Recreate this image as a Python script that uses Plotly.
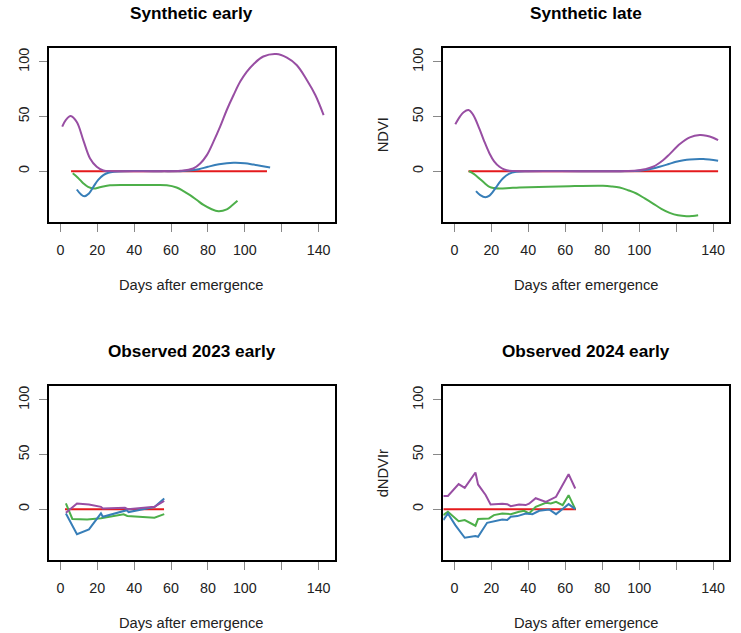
import plotly.graph_objects as go

W, H = 741, 633

PURPLE = "#984EA3"
BLUE = "#377EB8"
GREEN = "#4DAF4A"
RED = "#E41A1C"

# ---------------- data ----------------
# Synthetic early
se_purple_x = [1, 3, 5.6, 8.9, 12.5, 16.1, 19.7, 23.3, 28, 40, 55, 65, 72, 75.8, 79.4, 83, 86.6, 90.2, 93.9, 97.5, 101, 104.7, 110, 117, 122.8, 128.2, 133.6, 138.2, 142.7]
se_purple_y = [40.7, 47, 50.5, 45, 28, 11.6, 4, 0.6, 0, 0, 0, 0.3, 2.4, 7, 14.7, 27, 40.7, 56, 69.7, 82, 91, 98, 105, 107.3, 104, 97, 83.5, 69.7, 51.4]
se_blue_x = [8.9, 11, 13, 15.5, 17.9, 20.5, 23.3, 26, 29, 35, 50, 65, 70, 75, 80, 86, 93.9, 100, 104.7, 109, 113.7]
se_blue_y = [-16.8, -21, -23, -20.5, -14.4, -8, -3.7, -1.5, -0.5, 0, 0, 0, 0.5, 1.8, 4, 6.2, 7.6, 7.2, 6, 4.8, 3.4]
se_green_x = [6.7, 9.5, 12.5, 15, 17.9, 22, 26.9, 39.6, 50, 57.7, 63, 66.5, 70.3, 74, 77.6, 81.5, 85.7, 90.2, 93, 96]
se_green_y = [-2, -6, -11.3, -14.5, -16, -14.5, -13, -12.8, -12.8, -13, -15, -18, -22, -26.5, -31, -34.5, -36.7, -35, -31.5, -27.2]
se_red_x = [5.8, 112]
se_red_y = [0, 0]

# Synthetic late
sl_purple_x = [0.5, 3, 5, 7.6, 10, 13.5, 16, 19, 21.5, 24.4, 27, 29.8, 35, 60, 90, 98.5, 103, 107.5, 112.9, 116.5, 122, 127.4, 132.8, 136.4, 140, 142.7]
sl_purple_y = [43, 50, 54, 56, 52, 39, 28, 16.2, 9, 4, 1.5, 0.3, 0, 0, 0, 0.5, 1.8, 4, 10, 15.6, 24.8, 30.9, 33, 32.4, 30.6, 28.4]
sl_blue_x = [11.7, 14, 16.8, 19, 20.8, 23.5, 26.2, 29.5, 33.4, 40, 70, 100, 105, 111, 116, 120, 124, 127.4, 134.6, 142.7]
sl_blue_y = [-18.3, -22, -24, -22.5, -19, -12.5, -6.7, -2.5, -0.6, 0, 0, 0.3, 1.5, 4, 6.5, 8.6, 10, 10.7, 11, 9.5]
sl_green_x = [7.8, 10.5, 13.5, 16, 19, 21.5, 24.4, 30, 35.2, 62.3, 80.4, 85, 89.4, 94, 98.5, 103, 107.5, 112, 116.5, 121, 125.6, 129, 131.9]
sl_green_y = [0, -2.5, -6.7, -10.5, -14.4, -15.5, -16, -15.5, -15, -13.8, -13.5, -14, -15, -17.5, -20.5, -25, -29.7, -34.5, -38.2, -40.5, -41.3, -41, -40.4]
sl_red_x = [7.6, 142.7]
sl_red_y = [0, 0]

# Observed 2023 early
o23_blue_x = [3, 9, 15.5, 22, 23, 36, 37, 51, 56.3]
o23_blue_y = [-4, -23, -18.5, -3.9, -7, -1, -2.7, 2, 9.8]
o23_green_x = [3, 6.5, 14.5, 22, 34.3, 36.3, 51, 56.3]
o23_green_y = [5.2, -9, -9.6, -8.3, -4.8, -6.2, -7.8, -4.6]
o23_purple_x = [3, 9, 15.5, 22, 23, 35, 36.5, 51, 56.3]
o23_purple_y = [-3.4, 5.2, 4.3, 2.1, 0.6, 1.2, 0, 2.1, 7.6]
o23_red_x = [2.5, 56.2]
o23_red_y = [0, 0]

# Observed 2024 early
o24_purple_x = [-6, -3.5, 2.3, 5.6, 11.4, 12.8, 16.9, 19.6, 25.9, 28.6, 30.5, 35, 38.6, 40.4, 44, 49.5, 55, 57.7, 61.8, 65.4]
o24_purple_y = [12, 12, 22.9, 19.5, 33.6, 22.6, 13, 4.3, 5, 4.5, 2.7, 4.3, 3.7, 5, 10, 6.7, 11.3, 20, 32, 18.9]
o24_green_x = [-6, -3.5, 2.3, 5.6, 11.4, 12.8, 18.7, 21.4, 25.9, 30.5, 35, 37.7, 40.4, 44, 49.5, 52.2, 55, 58.6, 61.8, 65.4]
o24_green_y = [-5.5, -2.4, -11, -10, -15.2, -9.1, -8.5, -5.5, -4, -4.6, -2.4, -1.5, -4, 2.1, 5.8, 5.2, 6.7, 3.7, 12.8, 0]
o24_blue_x = [-6, -3.5, 0.5, 5.6, 11.4, 12.8, 17.7, 20.4, 25.9, 28.6, 30.5, 34.1, 38.6, 42.2, 45.9, 51.3, 55, 58.9, 61.8, 65.4]
o24_blue_y = [-10, -4, -14.6, -26.2, -24.7, -25.3, -12.5, -11.6, -9.5, -10, -7, -6.4, -4, -4.6, -1.5, -0.3, -4.6, 0.6, 4.6, 0]
o24_red_x = [-6, 65.8]
o24_red_y = [0, 0]

titles = ["Synthetic early", "Synthetic late", "Observed 2023 early", "Observed 2024 early"]
ylabels = ["", "NDVI", "", "dNDVIr"]
xlabel = "Days after emergence"
x_ticks = [0, 20, 40, 60, 80, 100, 120, 140]
x_ticktext = ["0", "20", "40", "60", "80", "100", "", "140"]
y_ticks = [0, 50, 100]
y_ticktext = ["0", "50", "100"]

XRANGE = [-6, 148.6]
YRANGE = [-46.6, 112.8]

# ---------------- layout geometry (pixels) ----------------
col_px = [(49.3, 334.5), (443.3, 729.0)]
row_px = [(48.0, 222.0), (386.0, 560.0)]

fig = go.Figure()
FONT = "Liberation Sans, Arial, Helvetica, sans-serif"

panels = [
    [(se_red_x, se_red_y, RED), (se_green_x, se_green_y, GREEN), (se_blue_x, se_blue_y, BLUE), (se_purple_x, se_purple_y, PURPLE)],
    [(sl_red_x, sl_red_y, RED), (sl_green_x, sl_green_y, GREEN), (sl_blue_x, sl_blue_y, BLUE), (sl_purple_x, sl_purple_y, PURPLE)],
    [(o23_red_x, o23_red_y, RED), (o23_green_x, o23_green_y, GREEN), (o23_blue_x, o23_blue_y, BLUE), (o23_purple_x, o23_purple_y, PURPLE)],
    [(o24_red_x, o24_red_y, RED), (o24_green_x, o24_green_y, GREEN), (o24_blue_x, o24_blue_y, BLUE), (o24_purple_x, o24_purple_y, PURPLE)],
]
smooth = [True, True, False, False]

annotations = []
for i in range(4):
    r, c = divmod(i, 2)
    x0, x1 = col_px[c]
    y0, y1 = row_px[r]
    n = "" if i == 0 else str(i + 1)
    xa = "x" + n
    ya = "y" + n
    for xs, ys, col in panels[i]:
        fig.add_trace(go.Scatter(
            x=xs, y=ys, mode="lines", xaxis=xa, yaxis=ya,
            line=dict(color=col, width=2, shape="spline" if smooth[i] else "linear", smoothing=1.0),
            showlegend=False, hoverinfo="skip"))
    common = dict(showgrid=False, zeroline=False, showline=True, linecolor="black",
                  linewidth=2, mirror=True, ticks="outside", ticklen=8, tickwidth=1,
                  tickcolor="#888888", automargin=False,
                  tickfont=dict(family=FONT, size=14.3, color="#222222"))
    fig.layout["xaxis" + n] = dict(domain=[x0 / W, x1 / W], range=XRANGE, anchor=ya,
                                   tickmode="array", tickvals=x_ticks, ticktext=x_ticktext,
                                   ticklabelstandoff=6, **common)
    fig.layout["yaxis" + n] = dict(domain=[1 - y1 / H, 1 - y0 / H], range=YRANGE, anchor=xa,
                                   tickmode="array", tickvals=y_ticks, ticktext=y_ticktext,
                                   tickangle=-90, ticklabelstandoff=5, **common)
    cx = (x0 + x1) / 2
    annotations.append(dict(text="<b>" + titles[i] + "</b>", x=cx / W, y=1 - (y0 - 35) / H,
                            xref="paper", yref="paper", showarrow=False, xanchor="center", yanchor="middle",
                            font=dict(family=FONT, size=17.2, color="black")))
    annotations.append(dict(text=xlabel, x=cx / W, y=1 - (y1 + 63) / H,
                            xref="paper", yref="paper", showarrow=False, xanchor="center", yanchor="middle",
                            font=dict(family=FONT, size=14.7, color="#222222")))
    if ylabels[i]:
        annotations.append(dict(text=ylabels[i], x=(x0 - 60) / W, y=1 - ((y0 + y1) / 2) / H,
                                xref="paper", yref="paper", showarrow=False, textangle=-90,
                                xanchor="center", yanchor="middle",
                                font=dict(family=FONT, size=14.7, color="#222222")))

fig.update_layout(width=W, height=H, margin=dict(l=0, r=0, t=0, b=0, autoexpand=False),
                  paper_bgcolor="white", plot_bgcolor="white", annotations=annotations,
                  font=dict(family=FONT))

fig.write_html("out.html", config={"displayModeBar": False, "staticPlot": True},
               post_script="document.body.style.margin='0px';document.body.style.overflow='hidden';")
